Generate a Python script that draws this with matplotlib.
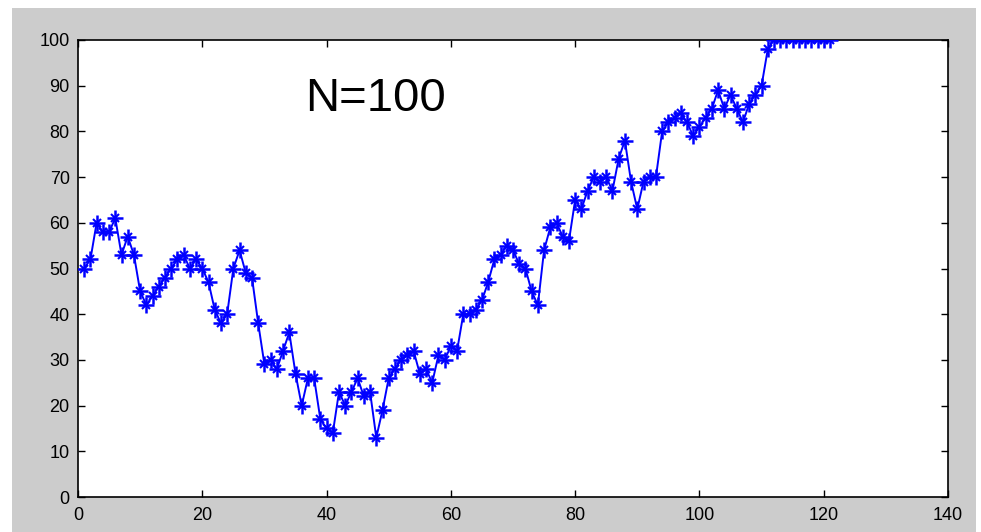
import numpy as np
import matplotlib
matplotlib.use("Agg")
import matplotlib.pyplot as plt
from matplotlib.patches import Rectangle

# Dados (x começa em 1, como o plot(y) do MATLAB)
valores = [50, 52, 60, 58, 58, 61, 53, 57, 53, 45,
           42, 44, 46, 48, 50, 52, 53, 50, 52, 50,
           47, 41, 38, 40, 50, 54, 49, 48, 38, 29,
           30, 28, 32, 36, 27, 20, 26, 26, 17, 15,
           14, 23, 20, 23, 26, 22, 23, 13, 19, 26,
           28, 30, 31, 32, 27, 28, 25, 31, 30, 33,
           32, 40, 40, 41, 43, 47, 52, 53, 55, 54,
           51, 50, 45, 42, 54, 59, 60, 57, 56, 65,
           63, 67, 70, 69, 70, 67, 74, 78, 69, 63,
           69, 70, 70, 80, 82, 83, 84, 82, 79, 81,
           83, 85, 89, 85, 88, 85, 82, 86, 88, 90,
           98, 100, 100, 100, 100, 100, 100, 100, 100, 100,
           100]
passos = list(range(1, len(valores) + 1))
xTicks = list(range(0, 141, 20))
yTicks = list(range(0, 101, 10))
rotulo = "N=100"

plt.rcParams['font.family'] = ['Liberation Sans', 'DejaVu Sans']

fig = plt.figure(figsize=(9.81, 5.32), dpi=100, facecolor='#cccccc')
# faixas brancas nas bordas (como na captura original)
fig.patches.append(Rectangle((0, 1 - 8 / 532), 1, 8 / 532, transform=fig.transFigure,
                             facecolor='white', edgecolor='none', zorder=0))
fig.patches.append(Rectangle((0, 0), 12 / 981, 1, transform=fig.transFigure,
                             facecolor='white', edgecolor='none', zorder=0))
fig.patches.append(Rectangle((1 - 5 / 981, 0), 5 / 981, 1, transform=fig.transFigure,
                             facecolor='white', edgecolor='none', zorder=0))

ax = fig.add_axes([78 / 981, 1 - 497 / 532, 870 / 981, 457 / 532])
ax.set_facecolor('white')

ax.plot(passos, valores, color='blue', linewidth=1.4, zorder=2)
ax.plot(passos, valores, linestyle='none', marker='+', markersize=12,
        markeredgewidth=1.8, color='blue', zorder=3)
ax.plot(passos, valores, linestyle='none', marker='x', markersize=6,
        markeredgewidth=1.5, color='blue', zorder=3)

ax.set_xlim(0, 140)
ax.set_ylim(0, 100)
ax.set_xticks(xTicks)
ax.set_yticks(yTicks)
ax.tick_params(direction='in', length=5, width=1, top=True, right=True,
               labelsize=13, colors='black')
ax.tick_params(axis='x', pad=7)
ax.tick_params(axis='y', pad=6)
for spine in ax.spines.values():
    spine.set_linewidth(1.2)
    spine.set_color('black')

ax.text(36.6, 87, rotulo, fontsize=34, ha='left', va='center', color='black')

fig.savefig("out.png", dpi=100, facecolor=fig.get_facecolor())
